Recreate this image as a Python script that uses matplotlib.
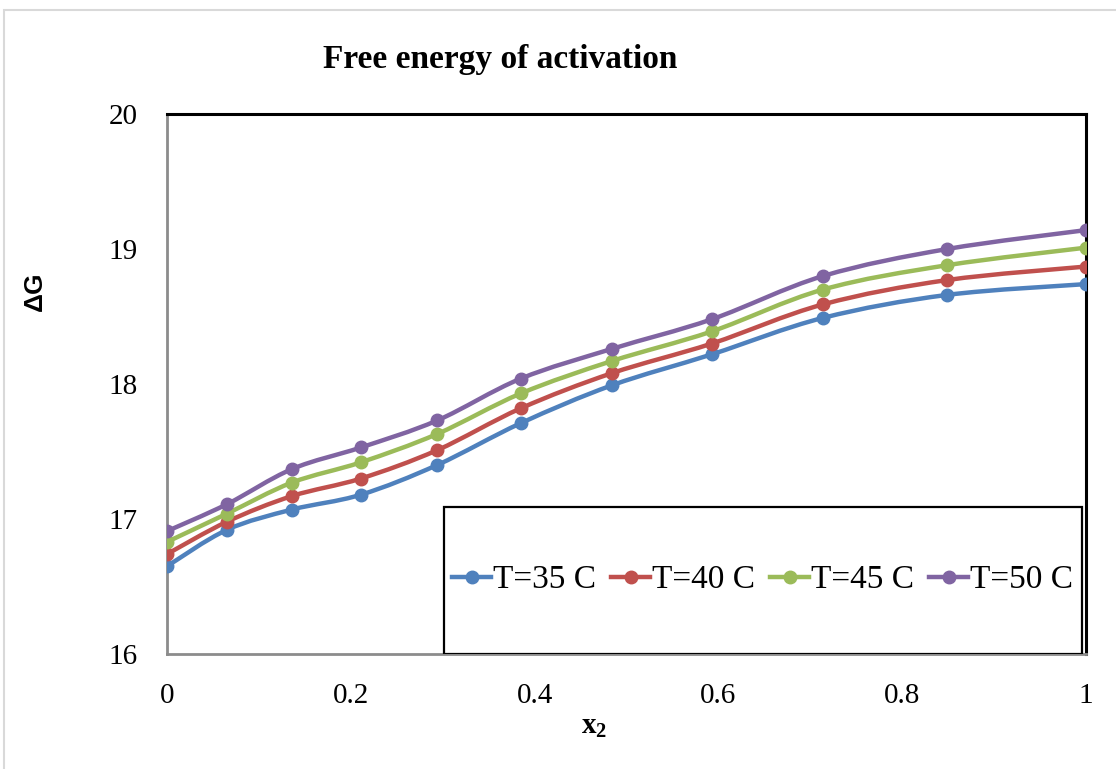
import numpy as np
import matplotlib
matplotlib.use("Agg")
import matplotlib.pyplot as plt
from matplotlib.path import Path
from matplotlib.patches import PathPatch, Rectangle
from matplotlib.lines import Line2D

plt.rcParams['font.family'] = ['Liberation Serif', 'DejaVu Serif']
plt.rcParams['mathtext.fontset'] = 'custom'
plt.rcParams['mathtext.rm'] = 'Liberation Serif'
plt.rcParams['mathtext.bf'] = 'Liberation Serif:bold'

# mole fraction of component 2
x2 = [0, 0.0653, 0.136, 0.211, 0.294, 0.385, 0.484, 0.593, 0.714, 0.849, 1.0]

# free energy of activation at each temperature
dG_35 = [16.65, 16.92, 17.07, 17.18, 17.40, 17.71, 17.99, 18.22, 18.49, 18.66, 18.74]
dG_40 = [16.74, 16.98, 17.17, 17.30, 17.51, 17.82, 18.08, 18.30, 18.59, 18.77, 18.87]
dG_45 = [16.83, 17.04, 17.27, 17.42, 17.63, 17.93, 18.17, 18.39, 18.70, 18.88, 19.01]
dG_50 = [16.91, 17.11, 17.37, 17.53, 17.73, 18.04, 18.26, 18.48, 18.80, 19.00, 19.14]

labels = ["T=35 C", "T=40 C", "T=45 C", "T=50 C"]
colors = ["#4F81BD", "#C0504D", "#9BBB59", "#8064A2"]
series = [dG_35, dG_40, dG_45, dG_50]


def smooth_path(xs, ys):
    # spreadsheet-style smoothed line: cubic bezier through every point
    p = np.column_stack([xs, ys])
    n = len(p)
    verts = [p[0]]
    codes = [Path.MOVETO]
    for i in range(n - 1):
        prev = p[i - 1] if i > 0 else p[i]
        nxt = p[i + 2] if i + 2 < n else p[i + 1]
        c1 = p[i] + (p[i + 1] - prev) / 6.0
        c2 = p[i + 1] - (nxt - p[i]) / 6.0
        verts += [c1, c2, p[i + 1]]
        codes += [Path.CURVE4] * 3
    return Path(verts, codes)


fig = plt.figure(figsize=(11.16, 7.69), dpi=100)
ax = fig.add_axes([167 / 1116, 115 / 769, 919 / 1116, 540 / 769])

for ys, c in zip(series, colors):
    ax.add_patch(PathPatch(smooth_path(x2, ys), fill=False, edgecolor=c,
                           lw=3.2, capstyle='round', joinstyle='round', zorder=3))
    ax.plot(x2, ys, 'o', color=c, ms=9, zorder=4)

ax.set_xlim(0, 1)
ax.set_ylim(16, 20)
ax.set_xticks([0, 0.2, 0.4, 0.6, 0.8, 1])
ax.set_xticklabels(["0", "0.2", "0.4", "0.6", "0.8", "1"])
ax.set_yticks([16, 17, 18, 19, 20])
ax.tick_params(length=0, pad=21, labelsize=21)

for side in ['top', 'right']:
    ax.spines[side].set_color('black')
    ax.spines[side].set_linewidth(2.2)
for side in ['left', 'bottom']:
    ax.spines[side].set_color('#8c8c8c')
    ax.spines[side].set_linewidth(2.0)

# legend box sitting in the lower right of the plot area
ax.add_patch(Rectangle((0.301, 0.0), 0.695, 0.272, transform=ax.transAxes,
                       fill=True, facecolor='white', edgecolor='black', lw=1.6, zorder=5))
handles = [Line2D([], [], color=c, lw=3.2, marker='o', ms=9) for c in colors]
leg = ax.legend(handles, labels, loc='center', bbox_to_anchor=(0.6485, 0.137),
                ncol=4, frameon=False, fontsize=24, handlelength=1.15,
                handletextpad=0.08, columnspacing=0.45, borderaxespad=0)
leg.set_zorder(6)

fig.text(500 / 1116, 1 - 68 / 769, "Free energy of activation", ha='center',
         va='baseline', fontsize=24, fontweight='bold')
fig.text(35 / 1116, 1 - 291 / 769, "ΔG", rotation=90, ha='center', va='center',
         fontsize=19, fontweight='bold', family=['Liberation Sans', 'DejaVu Sans'])
fig.text(594 / 1116, 1 - 734 / 769, r"$\mathbf{x_2}$", ha='center', va='baseline',
         fontsize=21)

# light chart-area border
fig.patches.append(Rectangle((4 / 1116, -0.05), 1.2, 1 - 10 / 769 + 0.05,
                             transform=fig.transFigure, fill=False,
                             edgecolor='#d9d9d9', lw=1.5))

fig.savefig("out.png", dpi=100)
